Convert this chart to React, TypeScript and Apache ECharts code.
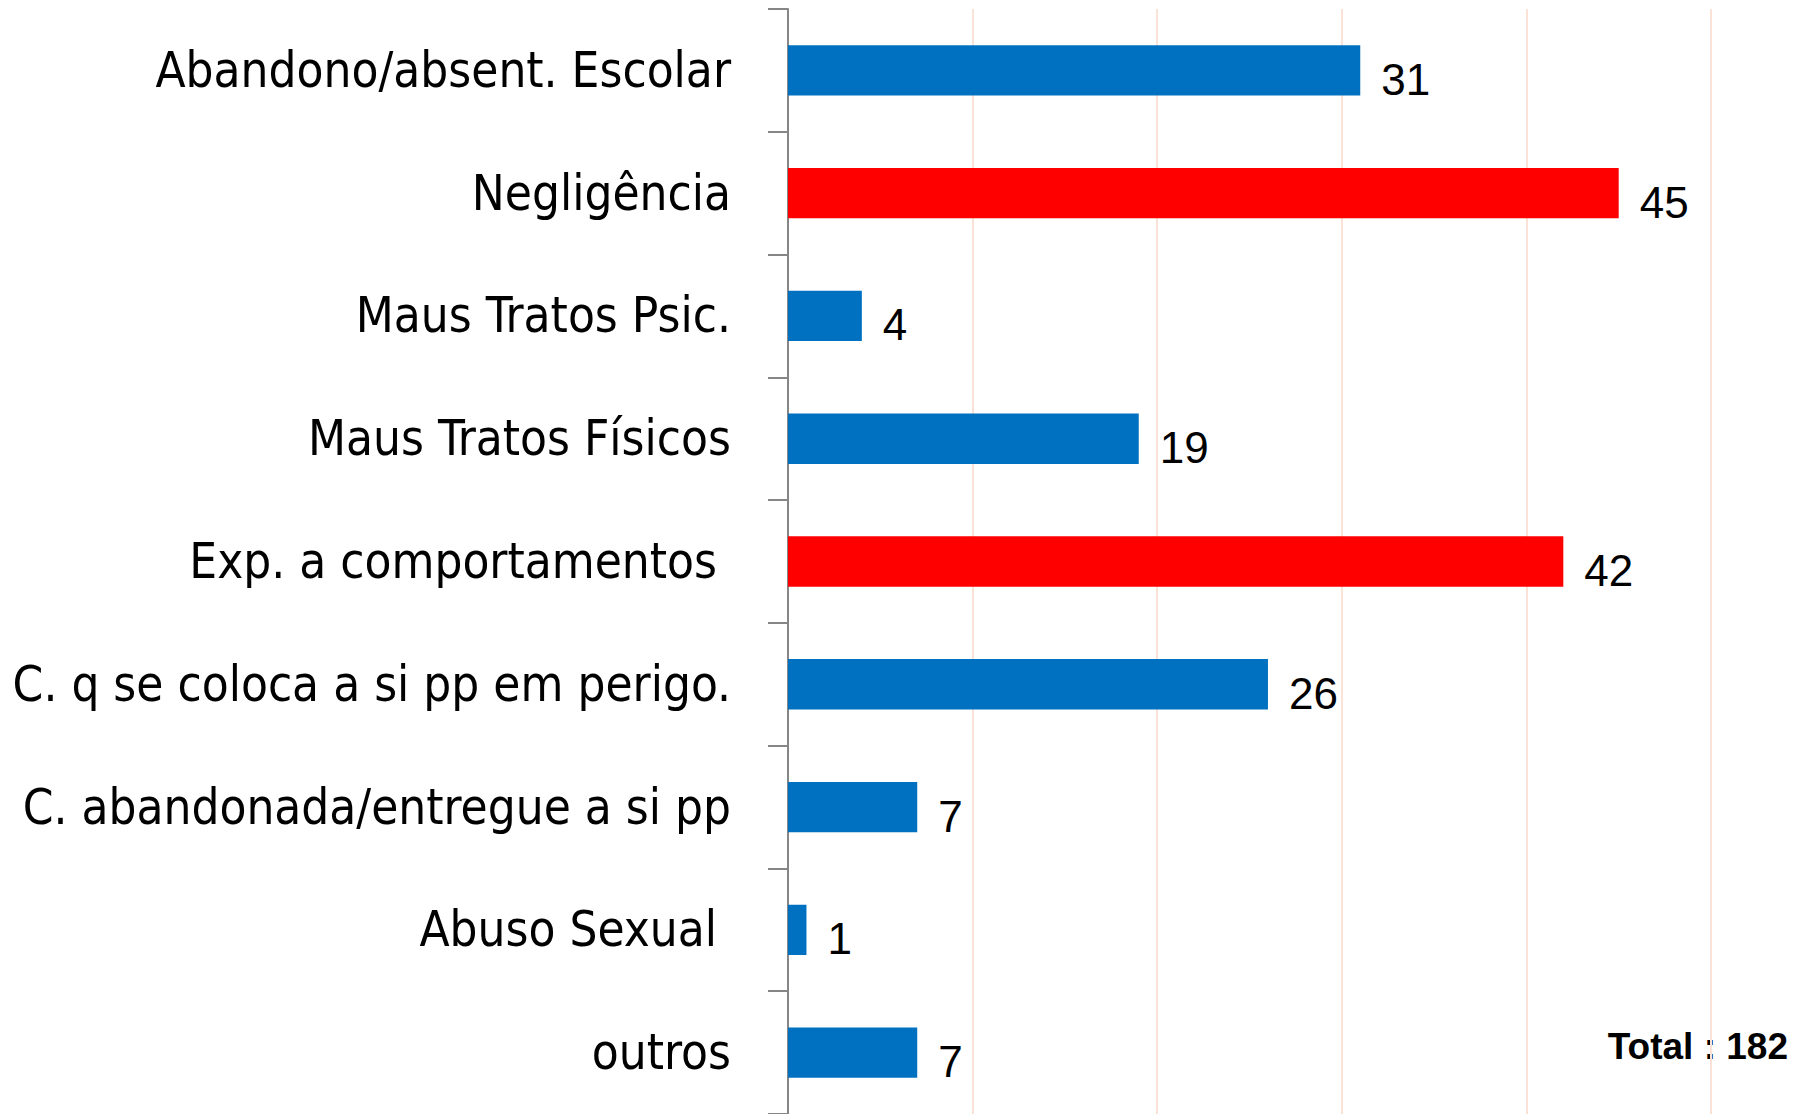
import React, { useEffect, useRef } from "react";
import * as echarts from "echarts";

const categories = [
  "Abandono/absent. Escolar",
  "Negligência",
  "Maus Tratos Psic.",
  "Maus Tratos Físicos",
  "Exp. a comportamentos ",
  "C. q se coloca a si pp em perigo.",
  "C. abandonada/entregue a si pp",
  "Abuso Sexual ",
  "outros",
];
const values = [31, 45, 4, 19, 42, 26, 7, 1, 7];
const highlighted = ["Negligência", "Exp. a comportamentos "];
const totalLabel = "Total : 182";

export default function App() {
  const ref = useRef<HTMLDivElement>(null);
  useEffect(() => {
    if (!ref.current) return;
    const chart = echarts.init(ref.current, undefined, { renderer: "svg" });
    chart.setOption({
      animation: false,
      backgroundColor: "#ffffff",
      grid: {
        left: 788,
        right: 91,
        top: 9,
        bottom: 0,
        containLabel: false,
        outerBoundsMode: "none",
      },
      xAxis: {
        type: "value",
        min: 0,
        max: 50,
        interval: 10,
        axisLabel: { show: false },
        axisLine: { show: false },
        axisTick: { show: false },
        splitLine: { show: true, lineStyle: { color: "#fbe2d6", width: 2 } },
      },
      yAxis: {
        type: "category",
        data: categories,
        inverse: true,
        axisLine: { show: true, lineStyle: { color: "#868686", width: 2 } },
        axisTick: { show: true, length: 20, lineStyle: { color: "#868686", width: 2 } },
        axisLabel: {
          fontFamily: "'Liberation Sans Narrow', 'DejaVu Sans Condensed', sans-serif",
          fontSize: 49,
          color: "#000000",
          margin: 57,
        },
      },
      series: [
        {
          type: "bar",
          data: values.map((v, i) => ({
            value: v,
            itemStyle: { color: highlighted.includes(categories[i]) ? "#ff0000" : "#0070c0" },
          })),
          barWidth: "41%",
          label: {
            show: true,
            position: "right",
            distance: 21,
            offset: [0, 9],
            fontFamily: "'Liberation Sans', Arial, sans-serif",
            fontSize: 44,
            color: "#000000",
          },
        },
      ],
      graphic: [
        {
          type: "text",
          right: 14,
          top: 1028,
          style: {
            text: totalLabel,
            fontFamily: "'Liberation Sans', Arial, sans-serif",
            fontWeight: "bold",
            fontSize: 37,
            fill: "#000000",
          },
        },
      ],
    });
    return () => chart.dispose();
  }, []);
  return (
    <div
      ref={ref}
      style={{ position: "fixed", left: 0, top: 0, width: 1802, height: 1114 }}
    />
  );
}
